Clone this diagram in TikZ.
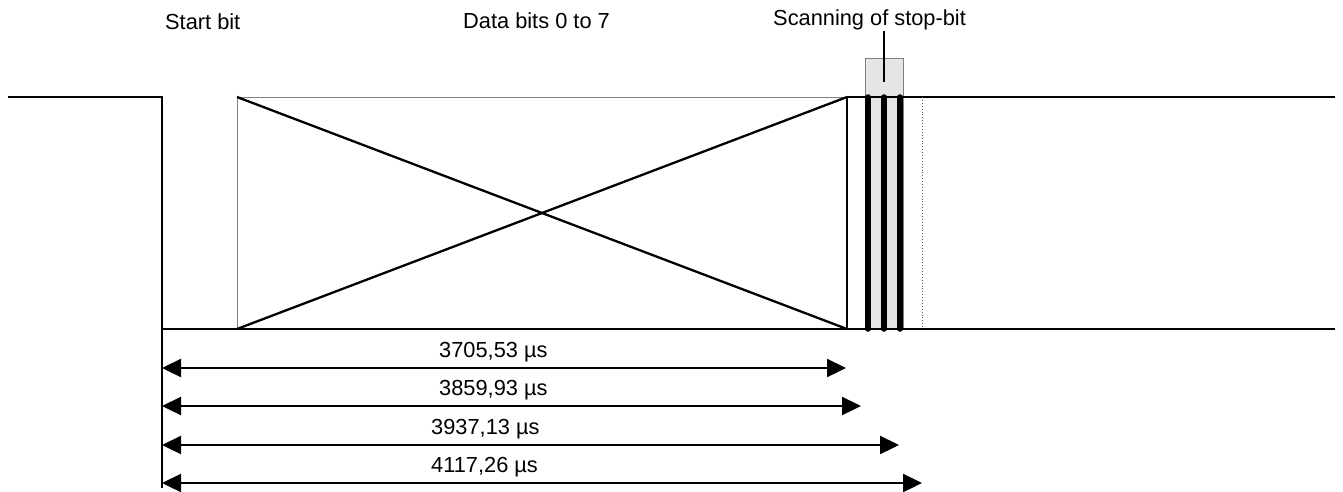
\documentclass[tikz,border=0pt]{standalone}
\usepackage{fontspec}
\setmainfont{Liberation Sans}
\usetikzlibrary{arrows.meta}
\begin{document}
\begin{tikzpicture}[x=1pt,y=-1pt,
  sig/.style={line width=2.3pt},
  thin/.style={line width=0.9pt, draw=gray},
  dim/.style={line width=2.3pt, {Triangle[length=19pt,width=18pt]}-{Triangle[length=19pt,width=18pt]}},
  lbl/.style={anchor=base west, inner sep=0pt, font=\fontsize{21.8}{25}\selectfont},
  stopline/.style={line width=5.5pt, line cap=round}]
\useasboundingbox (0,0) rectangle (1343,491);
% coordinates
\coordinate (L0) at (8,97);
\coordinate (S0) at (162,97);
\coordinate (S1) at (162,329);
\coordinate (Sb) at (162,488);
\coordinate (R1) at (1335,329);
\coordinate (D0) at (237,97);
\coordinate (D1) at (237,329);
\coordinate (E0) at (847,97);
\coordinate (E1) at (847,329);
\coordinate (R0) at (1335,97);
% scanning box
\node[draw=gray, fill=gray!20, line width=0.9pt, minimum width=38pt, minimum height=271pt, inner sep=0pt, anchor=north west] (scan) at (865,58) {};
% labels
\node[lbl] (tstart) at (165,29) {Start bit};
\node[lbl] (tdata) at (463,28) {Data bits 0 to 7};
\node[lbl] (tscan) at (773,25) {Scanning of stop-bit};
\coordinate (P0) at (884,31);
\coordinate (P1) at (884,82);
\draw[line width=1.6pt] (P0) -- (P1);
% data box thin lines
\draw[thin] (D1) -- (D0) -- (E0);
% signal
\draw[sig] (L0) -- (S0) -- (Sb);
\draw[sig] (S1) -- (R1);
\draw[sig] (E0) -- (R0);
\draw[sig] (E0) -- (E1);
\draw[sig] (D0) -- (E1);
\draw[sig] (D1) -- (E0);
% dotted line
\coordinate (Q0) at (922,97);
\coordinate (Q1) at (922,329);
\draw[line width=0.9pt, dotted, draw=gray!70!black] (Q0) -- (Q1);
% stop-bit scanning lines
\foreach \x/\n in {868/a,884/b,900/c}{
  \coordinate (st\n0) at (\x,97);
  \coordinate (st\n1) at (\x,329);
  \draw[stopline] (st\n0) -- (st\n1);
}
% dimension arrows
\foreach \y/\xe/\txt/\tx/\n in {368/846/{3705,53 µs}/439/a, 406/861/{3859,93 µs}/439/b, 445/899/{3937,13 µs}/431/c, 483/922/{4117,26 µs}/431/d}{
  \coordinate (al\n) at (162,\y);
  \coordinate (ar\n) at (\xe,\y);
  \draw[dim] (al\n) -- (ar\n);
  \node[lbl] (t\n) at (\tx,\y-10.5) {\txt};
}
\end{tikzpicture}
\end{document}
